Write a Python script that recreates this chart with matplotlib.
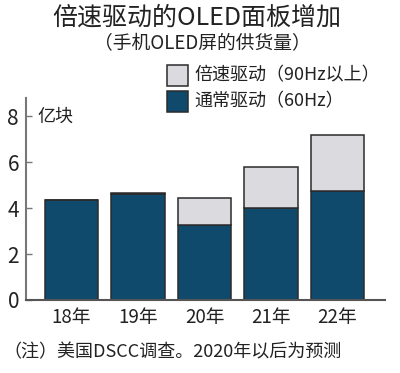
import numpy as np
import matplotlib
matplotlib.use("Agg")
import matplotlib.pyplot as plt
from matplotlib.patches import Rectangle

plt.rcParams['font.family'] = ['Noto Sans CJK SC', 'DejaVu Sans']

# data (100 million units)
years = ['18年', '19年', '20年', '21年', '22年']
normal_60hz = [4.35, 4.62, 3.25, 4.02, 4.76]
fast_90hz = [0.0, 0.03, 1.19, 1.77, 2.44]
yticks = [0, 2, 4, 6, 8]

dark = '#0f4a6c'
light = '#dadadf'
edge = '#2b2b2b'

W, H = 400, 373
fig = plt.figure(figsize=(W / 100, H / 100), dpi=100)

def fx(px):
    return px / W

def fy(py):
    return 1 - py / H

ax = fig.add_axes([fx(26), fy(300), fx(385) - fx(26), fy(98) - fy(300)])

x = np.arange(len(years))
ax.bar(x, normal_60hz, width=0.8, color=dark, edgecolor=edge, linewidth=1.1)
ax.bar(x, fast_90hz, width=0.8, bottom=normal_60hz, color=light, edgecolor=edge, linewidth=1.1)

ax.set_xlim(-0.684, 4.714)
ax.set_ylim(0, 8.8)
ax.set_yticks(yticks)
ax.set_yticklabels([str(v) for v in yticks], fontsize=15, color='#222222')
ax.set_xticks(x)
ax.set_xticklabels(years, fontsize=13.5, color='#222222')
ax.tick_params(axis='y', direction='in', length=4, width=1, color='#777777', pad=5)
ax.tick_params(axis='x', length=0, pad=5)

for s in ['top', 'right']:
    ax.spines[s].set_visible(False)
ax.spines['left'].set_color('#777777')
ax.spines['left'].set_linewidth(1.5)
ax.spines['bottom'].set_color('#555555')
ax.spines['bottom'].set_linewidth(1.5)

ax.text(0.033, 8.0, '亿块', fontsize=13, va='center', ha='left', color='#222222',
        transform=ax.get_yaxis_transform())

# titles
fig.text(fx(197), fy(18), '倍速驱动的OLED面板增加', fontsize=18, ha='center', va='center', color='#222222')
fig.text(fx(202), fy(44), '（手机OLED屏的供货量）', fontsize=13.5, ha='center', va='center', color='#222222')

# legend
fig.patches.append(Rectangle((fx(167), fy(86)), fx(21), fy(65) - fy(86), transform=fig.transFigure,
                             facecolor=light, edgecolor=edge, linewidth=1.1))
fig.patches.append(Rectangle((fx(167), fy(112)), fx(21), fy(91) - fy(112), transform=fig.transFigure,
                             facecolor=dark, edgecolor=edge, linewidth=1.1))
fig.text(fx(194), fy(75), '倍速驱动（90Hz以上）', fontsize=13, ha='left', va='center', color='#222222')
fig.text(fx(194), fy(101), '通常驱动（60Hz）', fontsize=13, ha='left', va='center', color='#222222')

# note
fig.text(fx(3), fy(352), '（注）美国DSCC调查。2020年以后为预测', fontsize=13, ha='left', va='center', color='#222222')

fig.savefig('out.png', dpi=100, facecolor='white')
